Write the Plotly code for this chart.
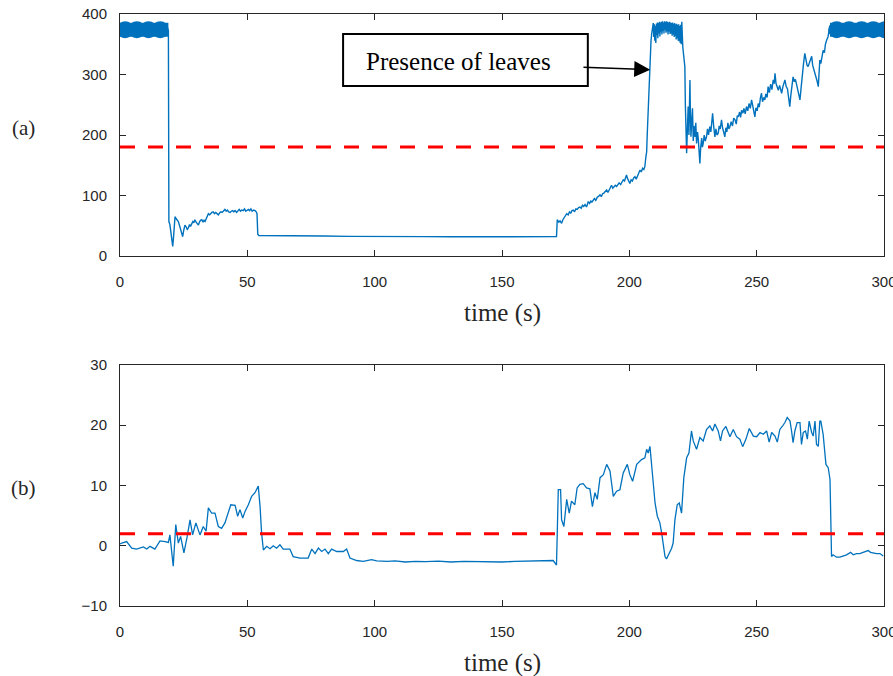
import plotly.graph_objects as go

# ---------------- data: panel (a) ----------------
# dense oscillation segments (drawn as a thick band)
osc_a_time = [0.0, 19.0]
osc_b_time = [278.8, 300.0]
osc_level = [374, 374]
osc_a_bumps = [2.0, 6.6, 11.2, 15.8]
osc_b_bumps = [281.4, 286.3, 291.2, 295.8, 300.4]

sig_a_time = [
    19.0, 19.2, 19.6, 20.0, 20.4, 20.7, 21.0, 21.3, 21.6, 22.0, 22.4, 22.9, 23.4, 23.9, 24.3, 24.6,
    25.0, 25.5, 26.0, 26.4, 26.8, 27.3, 27.7, 28.1, 28.6, 29.0, 29.4, 29.9, 30.3, 30.8, 31.2, 31.6,
    32.1, 32.6, 33.0, 33.4, 33.9, 34.3, 34.7, 35.2, 35.7, 36.1, 36.6, 37.1, 37.6, 38.1, 38.6, 39.1,
    39.6, 40.1, 40.6, 41.2, 41.7, 42.2, 42.7, 43.2, 43.7, 44.2, 44.7, 45.2, 45.8, 46.3, 46.8, 47.3,
    47.8, 48.4, 48.9, 49.4, 49.9, 50.4, 50.9, 51.4, 51.9, 52.5, 53.0, 53.5, 53.8, 54.1, 54.5, 55.0,
    60, 70, 80, 90, 100, 110, 120, 130, 140, 150, 160, 170, 171.4, 171.7,
    172.3, 172.8, 173.4, 173.9, 174.4, 174.9, 175.4, 176.0, 176.5, 177.0, 177.5, 178.0, 178.5, 179.0,
    179.5, 180.1, 180.6, 181.1, 181.6, 182.1, 182.6, 183.2, 183.6, 183.9, 184.4, 184.9, 185.3, 185.8,
    186.3, 186.8, 187.4, 188.0, 188.5, 189.0, 189.5, 190.0, 190.6, 191.1, 191.6, 192.1, 192.5, 193.0,
    193.5, 194.0, 194.5, 195.0, 195.5, 196.0, 196.6, 197.1, 197.6, 198.1, 198.5, 198.9, 199.3, 199.8,
    200.2, 200.7, 201.2, 201.7, 202.2, 202.7, 203.2, 203.7, 204.2, 204.7, 205.2, 205.7, 206.1, 206.5,
    206.8, 207.0, 207.3, 207.6, 207.9, 208.1, 208.5, 208.8, 209.1, 209.4,
    209.6, 209.8, 210.0, 210.2, 210.4, 210.6, 210.8, 211.0, 211.2, 211.4, 211.6, 211.8, 212.0, 212.2,
    212.4, 212.6, 212.8, 213.0, 213.2, 213.4, 213.6, 213.8, 214.0, 214.2, 214.4, 214.6, 214.8, 215.0,
    215.2, 215.4, 215.6, 215.8, 216.0, 216.2, 216.4, 216.6, 216.8, 217.0, 217.2, 217.4, 217.6, 217.8,
    218.0, 218.2, 218.4, 218.6, 218.8, 219.0, 219.2, 219.4, 219.6, 219.8, 220.0, 220.2, 220.4, 220.6,
    221.0, 221.3, 221.8, 222.0, 222.2, 222.5, 222.8, 223.1, 223.4, 223.8, 224.0, 224.2, 224.5, 224.8,
    225.1, 225.4, 225.8, 226.1, 226.4, 226.8, 227.1, 227.4, 227.7, 228.0, 228.4, 228.7, 229.0, 229.4,
    229.8, 230.3, 230.7, 231.1, 231.6, 232.0, 232.4, 232.7, 233.1, 233.6, 234.0, 234.4, 234.9, 235.3,
    235.7, 236.2, 236.6, 237.0, 237.5, 237.9, 238.3, 238.7, 239.1, 239.5, 240.0, 240.5, 241.0, 241.5,
    242.0, 242.4, 242.8, 243.3, 243.7, 244.1, 244.6, 245.0, 245.5, 246.0, 246.5, 247.0, 247.5, 248.0,
    248.4, 248.8, 249.3, 249.7, 250.2, 250.6, 251.0, 251.5, 251.9, 252.3, 252.8, 253.2, 253.6, 254.1,
    254.5, 255.0, 255.5, 256.0, 256.5, 256.9, 257.2, 257.6, 258.1, 258.5, 259.0, 259.4, 259.8, 260.3,
    260.7, 261.1, 261.6, 262.1, 262.6, 263.0, 263.4, 263.9, 264.3, 264.8, 265.2, 265.6, 266.1, 266.6,
    267.0, 267.5, 267.9, 268.4, 268.9, 269.3, 269.8, 270.2, 270.7, 271.1, 271.6, 272.0, 272.5, 272.9,
    273.3, 273.8, 274.2, 274.5, 274.8, 275.2, 275.6, 276.1, 276.6, 277.0, 277.5, 278.0, 278.5, 278.8,
]
sig_a_val = [
    374, 57, 52, 40, 22, 16, 30, 55, 65, 62, 60, 57, 50, 40, 35, 32,
    42, 51, 48, 44, 46, 52, 49, 54, 57, 55, 60, 56, 53, 51, 56, 59,
    60, 56, 59, 57, 62, 66, 70, 68, 71, 72, 73, 70, 72, 70, 68, 71,
    73, 72, 75, 77, 74, 76, 73, 72, 74, 75, 73, 75, 72, 75, 77, 74,
    76, 75, 78, 74, 76, 77, 75, 78, 74, 76, 75, 73, 70, 36, 34, 34,
    33.5, 33, 33, 32.5, 32, 32, 32, 31.8, 31.8, 31.5, 31.8, 31.8, 32, 60,
    56, 58, 54, 60, 64, 66, 70, 68, 73, 71, 75, 76, 73, 78,
    77, 80, 81, 79, 84, 82, 85, 81, 86, 90, 87, 91, 89, 93,
    95, 92, 97, 99, 101, 98, 103, 104, 106, 109, 105, 110, 113, 117,
    112, 114, 117, 115, 119, 121, 118, 122, 126, 124, 130, 134, 128, 124,
    120, 126, 124, 129, 131, 127, 133, 138, 142, 139, 145, 143, 148, 164,
    172, 197, 235, 269, 305, 340, 355, 368, 378, 385,
    362, 383, 356, 380, 352, 384, 365, 386, 360, 385, 368, 387, 363, 386,
    370, 387, 366, 388, 372, 386, 368, 388, 374, 387, 369, 388, 371, 387,
    366, 386, 371, 387, 367, 386, 368, 385, 364, 386, 366, 384, 362, 385,
    364, 383, 358, 384, 360, 382, 356, 383, 355, 380, 352, 382, 350, 387,
    345, 330, 313, 250, 181, 170, 210, 247, 200, 291, 230, 197, 225, 244,
    190, 215, 197, 220, 186, 205, 192, 175, 153, 178, 195, 180, 186, 200,
    190, 197, 210, 200, 214, 205, 225, 236, 215, 197, 210, 200, 203, 215,
    210, 225, 212, 205, 197, 212, 205, 220, 210, 214, 222, 215, 228, 225,
    218, 232, 230, 238, 229, 241, 236, 244, 235, 247, 240, 252, 244, 258,
    250, 240, 230, 245, 240, 252, 246, 262, 269, 255, 262, 258, 268, 262,
    280, 270, 284, 275, 291, 285, 302, 285, 278, 274, 282, 276, 269, 280,
    286, 291, 280, 276, 260, 247, 265, 280, 296, 288, 292, 285, 275, 265,
    258, 280, 300, 318, 335, 322, 315, 313, 320, 325, 330, 315, 308, 302,
    295, 288, 280, 300, 324, 318, 332, 340, 336, 350, 357, 362, 374, 374,
]
thr_a_time = [0, 300]
thr_a_val = [180, 180]

# ---------------- data: panel (b) ----------------
sig_b_time = [
    0.0, 0.7, 2.6, 4.6, 6.5, 9.2, 10.5, 11.8, 13.7, 15.7, 17.7, 19.0, 19.6, 20.3, 20.9, 21.9,
    22.9, 23.8, 25.1, 26.4, 27.5, 28.5, 29.8, 31.4, 32.7, 33.8, 34.7, 36.0, 37.3, 38.6, 39.9, 41.2,
    42.5, 43.5, 45.2, 46.2, 47.1, 48.2, 49.1, 50.4, 51.7, 53.0, 54.3, 55.0, 55.6, 56.3, 57.6, 58.9,
    60.2, 61.5, 62.8, 64.1, 66.7, 68.0, 70.7, 73.9, 75.3, 76.6, 77.9, 79.2, 80.5, 81.8, 83.1, 85.1,
    87.7, 89.0, 90.3, 92.9, 95.5, 98.8, 100.8, 105, 108, 112, 116, 120, 125, 130, 135, 140, 145,
    150, 155, 160, 164.9, 168, 170.1, 171.4, 172.1, 173.0, 173.4, 174.3, 175.4, 176.4, 177.3, 178.6,
    179.5, 180.6, 181.9, 183.2, 184.5, 185.5, 186.5, 187.4, 188.5, 189.8, 191.1, 192.4, 193.7, 195.0,
    196.3, 197.6, 199.2, 200.2, 201.3, 202.9, 204.8, 206.1, 206.8, 207.4, 208.1, 208.8, 210.1, 211.0,
    212.0, 212.7, 214.0, 214.6, 215.7, 216.6, 217.2, 217.9, 218.8, 219.6, 220.5, 221.4, 222.5, 223.4,
    224.4, 225.1, 226.4, 227.7, 229.0, 230.3, 231.6, 232.7, 233.6, 234.9, 235.8, 236.6, 237.9, 239.5,
    240.8, 242.1, 243.4, 244.5, 245.8, 247.1, 248.7, 250.0, 251.3, 252.6, 253.9, 254.9, 255.9, 257.2,
    258.1, 259.1, 260.2, 261.1, 262.0, 263.1, 263.7, 264.3, 265.0, 265.9, 267.0, 267.6, 268.3, 269.2,
    269.9, 270.6, 271.6, 272.2, 272.9, 273.5, 274.2, 274.8, 275.2, 276.1, 277.2, 278.1, 278.8, 279.4,
    280.0, 281.4, 282.7, 284.0, 285.3, 286.9, 287.9, 289.2, 290.5, 291.8, 293.8, 294.7, 295.8, 297.1,
    298.4, 299.7,
]
sig_b_val = [
    0.3, 0.45, 0.7, -0.4, -0.55, -0.2, -0.55, -0.1, -0.55, 0.8, 0.7, 0.55, 1.8, -0.7, -3.4, 3.5,
    0.45, 1.55, -1.2, 1.55, 4.3, 1.8, 3.8, 1.8, 3.2, 2.4, 6.3, 5.4, 5.4, 3.2, 2.9, 3.8,
    5.4, 6.8, 6.7, 4.9, 6.0, 4.6, 5.7, 6.8, 8.2, 8.8, 9.9, 6.5, 2.1, -0.7, -0.1, -0.5,
    0.0, -0.4, 0.15, -0.55, -0.55, -1.8, -2.05, -2.05, -0.55, -1.3, -0.4, -0.95, -0.55, -1.3, -0.55, -0.95,
    -0.95, -0.55, -2.05, -2.45, -2.6, -2.3, -2.5, -2.6, -2.5, -2.7, -2.6, -2.65, -2.55, -2.7, -2.6, -2.65, -2.6,
    -2.7, -2.6, -2.55, -2.45, -2.5, -2.45, -3.2, 9.3, 9.3, 4.3, 3.2, 7.7, 5.4, 7.4, 6.8,
    9.6, 10.2, 10.3, 9.6, 9.45, 6.5, 8.8, 7.7, 11.3, 11.8, 13.5, 12.4, 8.2, 9.05,
    9.3, 12.1, 13.5, 11.8, 10.7, 13.5, 14.3, 14.6, 16.0, 15.4, 16.5, 13.2, 7.1, 4.9,
    3.8, 2.1, -1.8, -2.2, -1.2, -0.4, 0.45, 4.3, 6.8, 7.1, 5.4, 11.3, 14.6, 15.4,
    19.05, 17.4, 16.0, 17.95, 17.4, 19.3, 19.9, 19.05, 20.2, 19.05, 17.4, 19.05, 19.8, 18.1,
    19.3, 18.1, 17.7, 16.45, 17.7, 19.45, 18.2, 18.1, 18.8, 18.5, 19.05, 17.2, 18.8, 18.2,
    17.2, 19.3, 19.9, 20.45, 21.3, 20.7, 19.05, 17.1, 19.05, 20.45, 20.45, 16.8, 18.8, 19.05,
    17.7, 20.7, 18.8, 18.2, 20.7, 16.8, 16.5, 20.7, 20.7, 18.5, 13.5, 12.95, 11.0, -1.8,
    -1.5, -1.9, -1.9, -1.7, -1.5, -1.1, -1.5, -1.3, -1.3, -1.1, -0.8, -1.1, -1.2, -1.3,
    -1.3, -1.7,
]
thr_b_time = [0, 300]
thr_b_val = [2, 2]

x_ticks = [0, 50, 100, 150, 200, 250, 300]
ya_ticks = [0, 100, 200, 300, 400]
yb_ticks = [-10, 0, 10, 20, 30]

# ---------------- styles ----------------
BLUE = "#0072BD"
RED = "#FF0000"
AX = "#262626"
TICKFONT = dict(family="Liberation Sans, Arial, sans-serif", size=15, color=AX)
SERIF = "Liberation Serif, Times New Roman, serif"

fig = go.Figure()

# panel (a)
for tt, bumps in ((osc_a_time, osc_a_bumps), (osc_b_time, osc_b_bumps)):
    fig.add_trace(go.Scatter(x=tt, y=osc_level, mode="lines",
                             line=dict(color=BLUE, width=14), xaxis="x", yaxis="y",
                             showlegend=False, hoverinfo="skip"))
    fig.add_trace(go.Scatter(x=bumps, y=[osc_level[0]] * len(bumps), mode="markers",
                             marker=dict(color=BLUE, size=17, line=dict(width=0)),
                             xaxis="x", yaxis="y", showlegend=False, hoverinfo="skip"))
fig.add_trace(go.Scatter(x=sig_a_time, y=sig_a_val, mode="lines",
                         line=dict(color=BLUE, width=1.4), xaxis="x", yaxis="y",
                         showlegend=False))
fig.add_trace(go.Scatter(x=thr_a_time, y=thr_a_val, mode="lines",
                         line=dict(color=RED, width=3, dash="15px,13px"),
                         xaxis="x", yaxis="y", showlegend=False))

# panel (b)
fig.add_trace(go.Scatter(x=sig_b_time, y=sig_b_val, mode="lines",
                         line=dict(color=BLUE, width=1.3), xaxis="x2", yaxis="y2",
                         showlegend=False))
fig.add_trace(go.Scatter(x=thr_b_time, y=thr_b_val, mode="lines",
                         line=dict(color=RED, width=3, dash="15px,13px"),
                         xaxis="x2", yaxis="y2", showlegend=False))

axis_common = dict(showline=True, linecolor=AX, linewidth=1, mirror="ticks",
                   ticks="inside", ticklen=6, tickcolor=AX, tickwidth=1,
                   showgrid=False, zeroline=False, tickfont=TICKFONT,
                   automargin=False, ticklabeloverflow="allow")

fig.update_layout(
    width=893, height=676,
    margin=dict(l=120, r=9, t=14, b=70, autoexpand=False),
    paper_bgcolor="white", plot_bgcolor="white",
    xaxis=dict(domain=[0, 1], anchor="y", range=[0, 300], tickvals=x_ticks,
               ticklabelstandoff=12, **axis_common),
    yaxis=dict(domain=[0.5912, 1], anchor="x", range=[0, 400], tickvals=ya_ticks,
               ticklabelstandoff=9, **axis_common),
    xaxis2=dict(domain=[0, 1], anchor="y2", range=[0, 300], tickvals=x_ticks,
                ticklabelstandoff=12, **axis_common),
    yaxis2=dict(domain=[0, 0.4071], anchor="x2", range=[-10, 30], tickvals=yb_ticks,
                ticklabelstandoff=9, **axis_common),
)

# annotation box and arrow in panel (a)
fig.add_shape(type="rect", xref="x", yref="y", x0=87.6, x1=183.7, y0=281, y1=367,
              line=dict(color="black", width=2), fillcolor="white", layer="above")
fig.add_annotation(xref="x", yref="y", x=132.9, y=321, text="Presence of leaves",
                   showarrow=False, font=dict(family=SERIF, size=25, color="black"))
fig.add_annotation(xref="x", yref="y", axref="x", ayref="y", x=208.2, y=308,
                   ax=181.4, ay=312, text="", showarrow=True, arrowhead=2,
                   arrowsize=2, arrowwidth=1.6, arrowcolor="black")

# axis titles and panel labels
for ypos in (0.4949, -0.0963):
    fig.add_annotation(xref="paper", yref="paper", x=0.5, y=ypos, text="time (s)",
                       showarrow=False, xanchor="center", yanchor="middle",
                       font=dict(family=SERIF, size=25, color=AX))
for lbl, ypos in (("(a)", 0.8074), ("(b)", 0.1993)):
    fig.add_annotation(xref="paper", yref="paper", x=-0.1257, y=ypos, text=lbl,
                       showarrow=False, xanchor="center", yanchor="middle",
                       font=dict(family=SERIF, size=21, color=AX))

fig.write_html("out.html", config={"displayModeBar": False},
               post_script="document.body.style.margin='0';document.body.style.overflow='hidden';")
